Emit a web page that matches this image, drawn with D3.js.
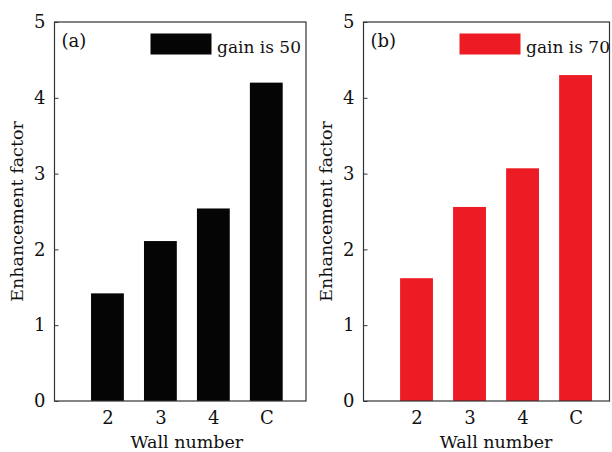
<!DOCTYPE html>
<html>
<head>
<meta charset="UTF-8">
<title>Enhancement factor</title>
<script src="https://d3js.org/d3.v7.min.js"></script>
<style>
  body { margin: 0; background: #fff; }
  text { font-family: "DejaVu Serif", serif; fill: #111; }
</style>
</head>
<body>
<script>
  // data
  var categories = ["2", "3", "4", "C"];
  var gain50 = [1.42, 2.11, 2.54, 4.20];
  var gain70 = [1.62, 2.56, 3.07, 4.30];
  var yTicks = [0, 1, 2, 3, 4, 5];

  var width = 612, height = 452;

  var panels = [
    { left: 54.5, right: 306, xMax: 5.75, values: gain50, color: "#050505",
      tag: "(a)", legend: "gain is 50", labelX: 23 },
    { left: 363.5, right: 609.5, xMax: 5.64, values: gain70, color: "#ed1c24",
      tag: "(b)", legend: "gain is 70", labelX: 332 }
  ];

  var svg = d3.select("body").append("svg")
      .attr("width", width)
      .attr("height", height);

  var y = d3.scaleLinear().domain([0, 5]).range([401, 22]);

  panels.forEach(function(p) {
    // categories sit at positions 2..5 on a linear axis starting at 1
    var x = d3.scaleLinear().domain([1, p.xMax]).range([p.left, p.right]);
    var barW = x(1.62) - x(1);

    var g = svg.append("g");

    g.selectAll("rect.bar")
      .data(p.values)
      .enter().append("rect")
        .attr("class", "bar")
        .attr("x", function(d, i) { return x(i + 2) - barW / 2; })
        .attr("y", function(d) { return y(d); })
        .attr("width", barW)
        .attr("height", function(d) { return y(0) - y(d); })
        .attr("fill", p.color);

    // y axis with short inward ticks
    var yAxis = d3.axisLeft(y).tickValues(yTicks).tickFormat(d3.format("d"))
        .tickSizeInner(-4).tickSizeOuter(0).tickPadding(9);
    var ya = g.append("g").attr("transform", "translate(" + p.left + ",0)").call(yAxis);
    ya.select(".domain").remove();
    ya.selectAll("line").attr("stroke", "#333");
    ya.selectAll("text").style("font-family", "DejaVu Serif").style("font-size", "18px").attr("fill", "#111");

    // x axis labels only
    var xAxis = d3.axisBottom(x).tickValues([2, 3, 4, 5])
        .tickFormat(function(d) { return categories[d - 2]; })
        .tickSize(0).tickPadding(10);
    var xa = g.append("g").attr("transform", "translate(0," + y(0) + ")").call(xAxis);
    xa.select(".domain").remove();
    xa.selectAll("text").style("font-family", "DejaVu Serif").style("font-size", "18px").attr("fill", "#111");

    // frame
    g.append("rect")
      .attr("x", p.left).attr("y", y(5))
      .attr("width", p.right - p.left).attr("height", y(0) - y(5))
      .attr("fill", "none").attr("stroke", "#333").attr("stroke-width", 1.2);

    // panel tag
    g.append("text")
      .attr("x", p.left + 7).attr("y", 47)
      .style("font-size", "18px")
      .text(p.tag);

    // legend
    g.append("rect")
      .attr("x", p.left + 96).attr("y", 33.5)
      .attr("width", 61).attr("height", 21)
      .attr("fill", p.color);
    g.append("text")
      .attr("x", p.left + 162.5).attr("y", 52.5)
      .style("font-size", "17px")
      .text(p.legend);

    // axis titles
    g.append("text")
      .attr("transform", "translate(" + p.labelX + "," + (y(0) + y(5)) / 2 + ") rotate(-90)")
      .attr("text-anchor", "middle")
      .style("font-size", "17.5px")
      .text("Enhancement factor");

    g.append("text")
      .attr("x", (x(2) + x(5)) / 2).attr("y", 448)
      .attr("text-anchor", "middle")
      .style("font-size", "17.5px")
      .text("Wall number");
  });
</script>
</body>
</html>
